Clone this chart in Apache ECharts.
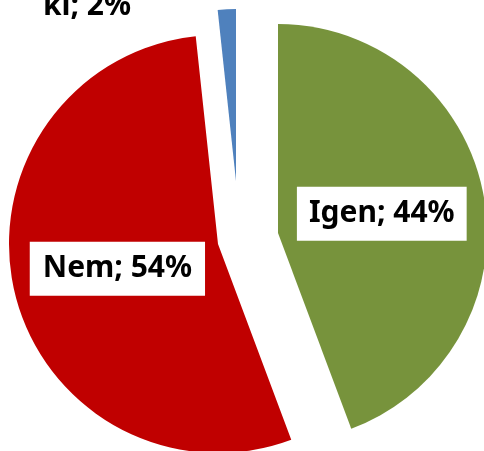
<!DOCTYPE html>
<html>
<head>
<meta charset="utf-8">
<script src="https://cdn.jsdelivr.net/npm/echarts@6/dist/echarts.min.js"></script>
<style>
  html, body { margin: 0; padding: 0; background: #fff; }
  #main { width: 484px; height: 451px; }
</style>
</head>
<body>
<div id="main"></div>
<script>
  // adatok
  var names = ['Igen', 'Nem', 'ki'];
  var values = [44.3, 54.0, 1.7];
  var colors = ['#77933C', '#C00000', '#4F81BD'];

  var chart = echarts.init(document.getElementById('main'));

  var labelStyle = {
    color: '#000',
    fontFamily: 'Noto Sans',
    fontWeight: 'bold',
    fontSize: 30,
    lineHeight: 34,
    formatter: '{b}; {d}%'
  };

  // every slice is its own series so it can be pulled out by a different amount
  function slice(i, center, radius, label, labelLayout) {
    return {
      type: 'pie',
      silent: true,
      animation: false,
      center: center,
      radius: radius,
      startAngle: 90,
      clockwise: true,
      percentPrecision: 0,
      labelLine: { show: false },
      labelLayout: labelLayout,
      data: values.map(function (v, j) {
        return {
          name: names[j],
          value: v,
          itemStyle: { color: j === i ? colors[j] : 'transparent', borderWidth: 0 },
          label: j === i ? Object.assign({ show: true }, labelStyle, label) : { show: false }
        };
      })
    };
  }

  var option = {
    backgroundColor: '#fff',
    series: [
      slice(0, [278, 233], 209, { position: 'inside', backgroundColor: '#fff', padding: [10, 12], offset: [-2, 0] }),
      slice(1, [218, 244], 209, { position: 'inside', backgroundColor: '#fff', padding: [10, 13], offset: [4, 0] }),
      slice(2, [236, 181], 172, { position: 'outside' },
        { x: 87, y: 6, align: 'center', verticalAlign: 'middle' })
    ]
  };

  chart.setOption(option);
</script>
</body>
</html>
